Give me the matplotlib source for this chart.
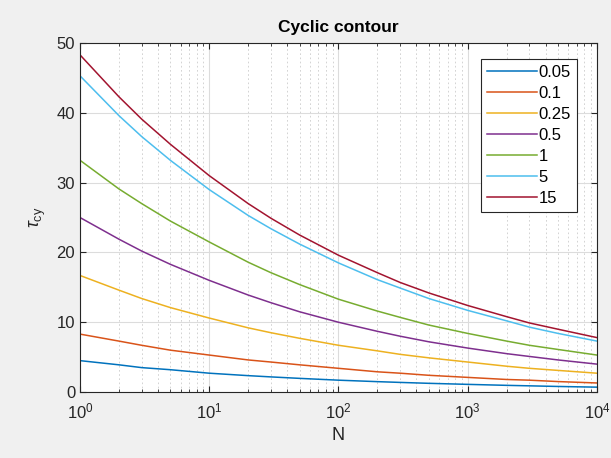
import matplotlib
matplotlib.use("Agg")
import matplotlib.pyplot as plt
from matplotlib.ticker import LogLocator, NullFormatter, MultipleLocator

plt.rcParams['font.family'] = ['Liberation Sans', 'DejaVu Sans']
plt.rcParams['mathtext.fontset'] = 'custom'
plt.rcParams['mathtext.rm'] = 'Liberation Sans'
plt.rcParams['mathtext.it'] = 'Liberation Sans:italic'

N = [1, 2, 3, 5, 10, 20, 30, 50, 100, 200, 300, 500, 1000, 2000, 3000, 5000, 10000]

labels = ['0.05', '0.1', '0.25', '0.5', '1', '5', '15']
tau_005 = [4.5, 3.9, 3.5, 3.2, 2.7, 2.35, 2.17, 1.96, 1.7, 1.49, 1.38, 1.25, 1.1, 0.96, 0.89, 0.80, 0.7]
tau_01 = [8.3, 7.3, 6.7, 6.0, 5.3, 4.6, 4.3, 3.9, 3.4, 2.9, 2.7, 2.4, 2.1, 1.8, 1.7, 1.5, 1.3]
tau_025 = [16.7, 14.6, 13.4, 12.1, 10.6, 9.2, 8.5, 7.7, 6.7, 5.9, 5.4, 4.9, 4.3, 3.7, 3.4, 3.1, 2.7]
tau_05 = [25.0, 21.9, 20.2, 18.3, 16.0, 13.9, 12.8, 11.5, 10.0, 8.7, 8.0, 7.2, 6.3, 5.5, 5.1, 4.6, 4.0]
tau_1 = [33.2, 29.1, 27.0, 24.5, 21.5, 18.6, 17.1, 15.4, 13.3, 11.6, 10.7, 9.6, 8.4, 7.3, 6.7, 6.1, 5.3]
tau_5 = [45.3, 39.6, 36.6, 33.2, 29.0, 25.3, 23.4, 21.2, 18.5, 16.1, 14.9, 13.4, 11.7, 10.2, 9.3, 8.4, 7.3]
tau_15 = [48.3, 42.3, 39.1, 35.5, 31.0, 27.0, 24.9, 22.5, 19.6, 17.1, 15.7, 14.2, 12.4, 10.8, 9.9, 9.0, 7.8]
series = [tau_005, tau_01, tau_025, tau_05, tau_1, tau_5, tau_15]
colors = ['#0072BD', '#D95319', '#EDB120', '#7E2F8E', '#77AC30', '#4DBEEE', '#A2142F']

fig = plt.figure(figsize=(6.11, 4.58), dpi=100, facecolor='#F0F0F0')
ax = fig.add_axes([0.131, 0.144, 0.846, 0.762])
ax.set_facecolor('white')

for y, c, lab in zip(series, colors, labels):
    ax.plot(N, y, color=c, lw=1.1, label=lab)

ax.set_xscale('log')
ax.set_xlim(1, 1e4)
ax.set_ylim(0, 50)
ax.yaxis.set_major_locator(MultipleLocator(10))
ax.xaxis.set_major_locator(LogLocator(base=10, numticks=10))
ax.xaxis.set_minor_locator(LogLocator(base=10, subs=range(2, 10), numticks=50))
ax.xaxis.set_minor_formatter(NullFormatter())

ax.grid(True, which='major', color='#DCDCDC', lw=0.8, ls='-')
ax.grid(True, which='minor', axis='x', color='#CCCCCC', lw=0.6, ls=(0, (2, 3)))
ax.set_axisbelow(True)

for s in ax.spines.values():
    s.set_color('#262626')
    s.set_linewidth(0.8)
ax.tick_params(which='both', direction='in', top=True, right=True, colors='#262626',
               labelsize=12)
ax.tick_params(which='major', length=4)
ax.tick_params(which='minor', length=2.5)
ax.tick_params(axis='x', pad=7)

ax.set_title('Cyclic contour', fontsize=12.5, fontweight='bold', color='black', pad=8)
ax.set_xlabel('N', fontsize=13, color='#262626', labelpad=4)
ax.set_ylabel(r'$\tau_{\mathrm{cy}}$', fontsize=13, color='#262626', labelpad=6)

leg = ax.legend(loc='upper right', bbox_to_anchor=(0.961, 0.954), fontsize=12,
                frameon=True, fancybox=False, edgecolor='#262626', framealpha=1,
                handlelength=3.0, handletextpad=0.12, labelspacing=0.36,
                borderpad=0.35, borderaxespad=0)
leg.get_frame().set_linewidth(0.8)

fig.savefig('out.png', dpi=100, facecolor=fig.get_facecolor())
